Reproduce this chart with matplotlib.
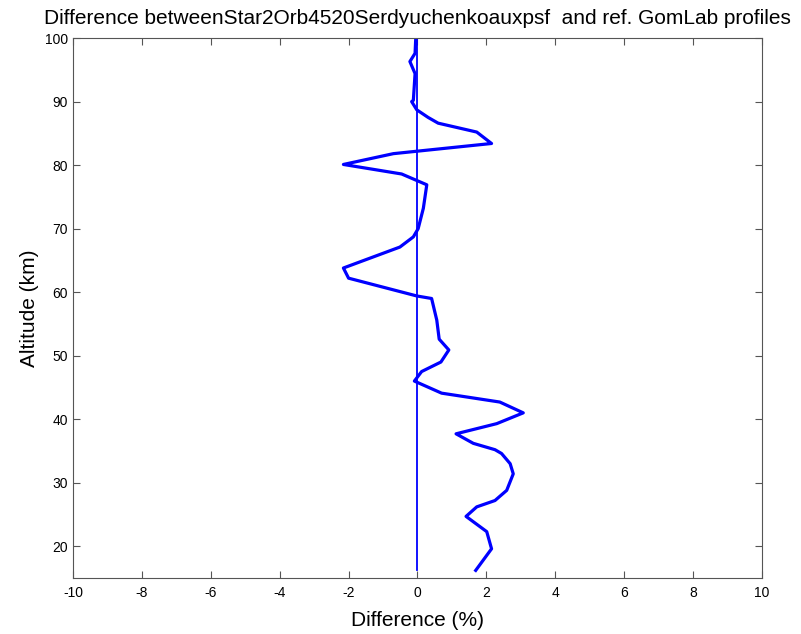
import matplotlib
matplotlib.use('Agg')
import matplotlib.pyplot as plt

# difference profile (%)
diff = [-0.05, -0.07, -0.22, -0.07, -0.12, -0.17, -0.02, 0.31, 0.6, 1.72, 2.15,
        -0.7, -2.15, -0.46, 0.27, 0.17, 0.02, -0.12, -0.51, -2.15, -2.0, -0.02,
        0.41, 0.56, 0.63, 0.91, 0.68, 0.12, -0.09, 0.7, 2.39, 3.07, 2.3, 1.12,
        1.62, 2.25, 2.44, 2.69, 2.78, 2.59, 2.25, 1.72, 1.41, 2.01, 2.15, 1.69]
alt = [100.0, 97.6, 96.3, 94.4, 90.2, 90.0, 88.7, 87.5, 86.6, 85.2, 83.4,
       81.8, 80.1, 78.6, 76.9, 73.2, 70.0, 68.7, 67.1, 63.8, 62.2, 59.4,
       59.0, 55.6, 52.6, 50.9, 49.0, 47.5, 46.0, 44.1, 42.7, 41.0, 39.3, 37.7,
       36.2, 35.2, 34.6, 33.0, 31.4, 28.8, 27.2, 26.2, 24.7, 22.3, 19.6, 16.2]
zero_x = [0, 0]
zero_alt = [16.2, 100]

xticks = list(range(-10, 11, 2))
yticks = list(range(20, 101, 10))

plt.rcParams['font.family'] = ['Liberation Sans', 'DejaVu Sans']
plt.rcParams['axes.unicode_minus'] = False

fig = plt.figure(figsize=(8.01, 6.34), dpi=100)
ax = fig.add_axes([0.0911, 0.0883, 0.8602, 0.8517])

ax.plot(diff, alt, color='#0000ff', linewidth=2.3)
ax.plot(zero_x, zero_alt, color='#0000ff', linewidth=1.3)

ax.set_xlim(-10, 10)
ax.set_ylim(15, 100)
ax.set_xticks(xticks)
ax.set_yticks(yticks)
ax.tick_params(direction='in', top=True, right=True, labelsize=10, length=5, color='#555555')
ax.tick_params(axis='x', pad=6)
for s in ax.spines.values():
    s.set_color('#555555')

ax.set_xlabel('Difference (%)', fontsize=15, labelpad=8)
ax.set_ylabel('Altitude (km)', fontsize=15)
ax.set_title('Difference betweenStar2Orb4520Serdyuchenkoauxpsf  and ref. GomLab profiles',
             fontsize=15, pad=10)

fig.savefig('out.png', dpi=100)
